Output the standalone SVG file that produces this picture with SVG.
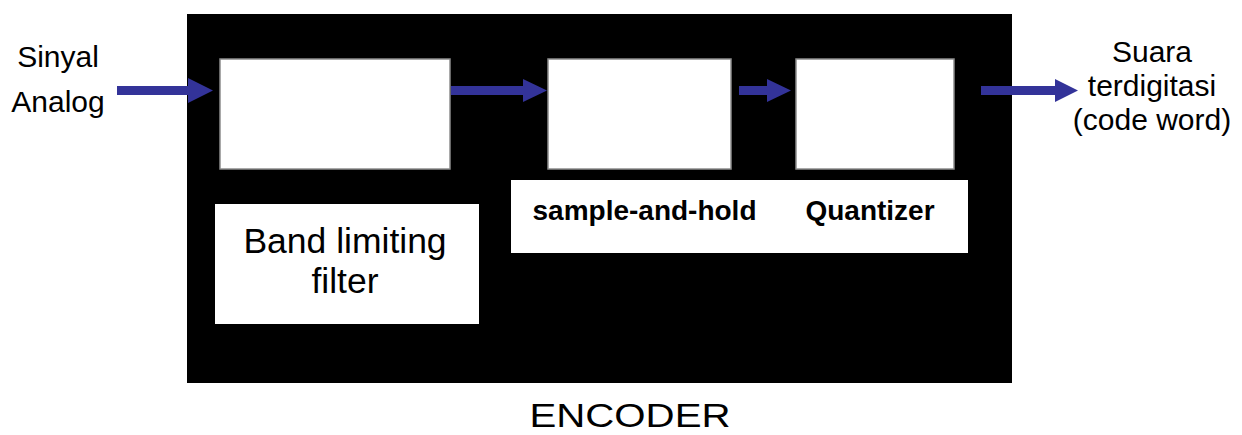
<svg xmlns="http://www.w3.org/2000/svg" width="1242" height="435" viewBox="0 0 1242 435">
<style>
.t{font-family:"Liberation Sans",Arial,sans-serif;fill:#000}
.n{font-size:30px}
.b{font-size:28px;font-weight:bold}
.blk{fill:#fff;stroke:#8c8c8c;stroke-width:1.5}
.lbl{fill:#fff}
.arr{fill:#333399}
</style>
<rect width="1242" height="435" fill="#fff"/>
<g id="encoder">
<rect x="187" y="14" width="825" height="369" fill="#000"/>
<text class="t" x="630" y="427" font-size="34" text-anchor="middle" textLength="201" lengthAdjust="spacingAndGlyphs">ENCODER</text>
</g>
<g id="filter-block"><rect class="blk" x="220" y="59" width="230" height="110"/></g>
<g id="sh-block"><rect class="blk" x="548" y="59" width="183" height="110"/></g>
<g id="quant-block"><rect class="blk" x="796" y="59" width="158" height="110"/></g>
<g id="filter-label">
<rect class="lbl" x="215" y="204" width="264" height="120"/>
<text class="t" x="345" y="253" font-size="35.5" text-anchor="middle">Band limiting</text>
<text class="t" x="345" y="293" font-size="35.5" text-anchor="middle">filter</text>
</g>
<g id="sh-quant-label">
<rect class="lbl" x="511" y="180" width="457" height="73"/>
<text class="t b" x="644.5" y="220" text-anchor="middle">sample-and-hold</text>
<text class="t b" x="870" y="220" text-anchor="middle">Quantizer</text>
</g>
<g id="input">
<text class="t n" x="58" y="67" text-anchor="middle">Sinyal</text>
<text class="t n" x="58" y="112" text-anchor="middle">Analog</text>
</g>
<g id="output">
<text class="t n" x="1152" y="62" text-anchor="middle">Suara</text>
<text class="t n" x="1152" y="96" text-anchor="middle">terdigitasi</text>
<text class="t n" x="1152" y="130" text-anchor="middle">(code word)</text>
</g>
<g id="connectors">
<path class="arr" d="M117,86 H188 V78 L213,90.5 L188,103 V95 H117 Z"/>
<path class="arr" d="M451,86 H523 V79 L547,90.5 L523,102 V95 H451 Z"/>
<path class="arr" d="M739,86 H767 V79 L791,90.5 L767,102 V95 H739 Z"/>
<path class="arr" d="M981,86 H1055 V79 L1078,90.5 L1055,102 V95 H981 Z"/>
</g>
</svg>
